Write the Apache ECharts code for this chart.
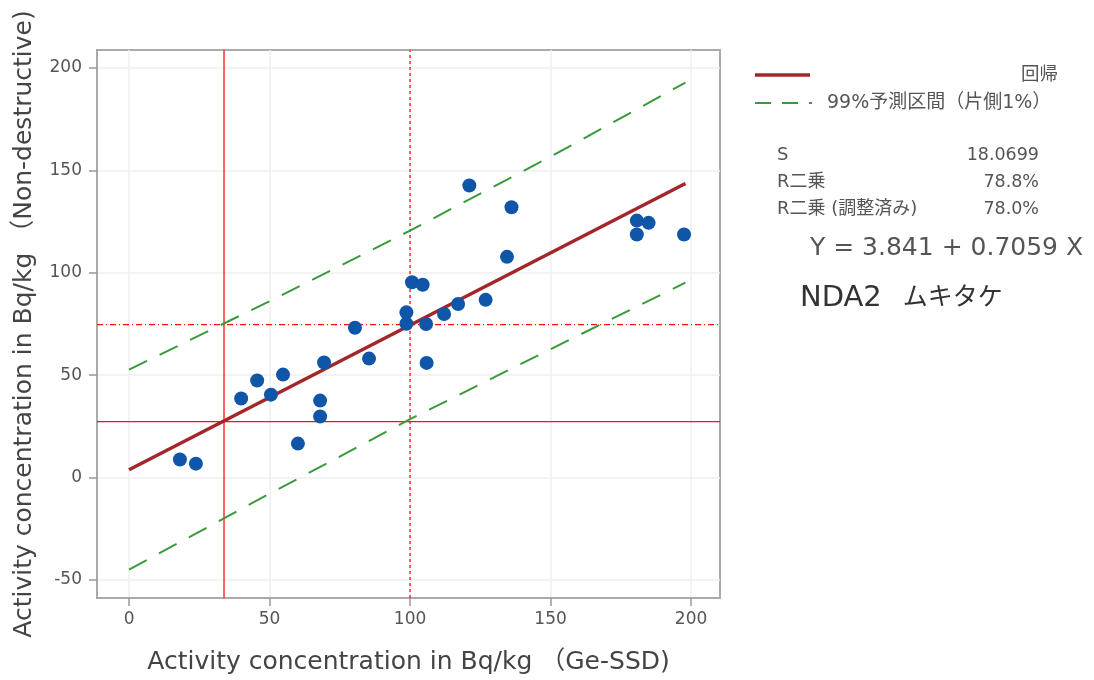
<!DOCTYPE html>
<html>
<head>
<meta charset="utf-8">
<script src="https://cdn.jsdelivr.net/npm/echarts@6/dist/echarts.min.js"></script>
<style>html,body{margin:0;padding:0;background:#fff}#c{width:1094px;height:680px}</style>
</head>
<body>
<div id="c"></div>
<script>
// ---- data ----
const geSSD = [18.1, 23.8, 39.9, 45.6, 50.5, 54.8, 60.1, 68.0, 68.0, 69.4, 80.4, 85.4,
  98.7, 98.7, 100.7, 104.5, 105.7, 105.9, 112.1, 117.1, 126.9, 121.1, 136.1, 134.5,
  180.7, 180.7, 184.9, 197.5];
const nonDestructive = [8.8, 6.8, 38.6, 47.4, 40.5, 50.3, 16.6, 37.6, 29.8, 56.2, 73.2, 58.1,
  80.7, 75.1, 95.4, 94.2, 75.0, 56.0, 79.9, 84.8, 86.8, 142.6, 132.0, 107.8,
  125.5, 118.7, 124.4, 118.7];
const fitX = [0, 198];
const fitY = [3.84, 143.6];
const piX = [0, 50, 100, 150, 198];
const piUpper = [52.7, 86.1, 120.6, 156.7, 192.9];
const piLower = [-44.9, -7.9, 28.5, 62.7, 95.2];
const refSolidX = 33.8;
const refSolidY = 27.3;
const refDotX = 100;
const refDotY = 74.7;
const xTicks = [0, 50, 100, 150, 200];
const yTicks = [-50, 0, 50, 100, 150, 200];
const xRange = [-11.4, 210.3];
const yRange = [-58.8, 208.8];
const legendNames = ['回帰', '99%予測区間（片側1%）'];
const statsLabels = ['S', 'R二乗', 'R二乗 (調整済み)'];
const statsValues = ['18.0699', '78.8%', '78.0%'];
const equationText = 'Y = 3.841 + 0.7059 X';
const titleLatin = 'NDA2';
const titleKana = 'ムキタケ';
const xName = 'Activity concentration in Bq/kg （Ge-SSD)';
const yName = 'Activity concentration in Bq/kg （Non-destructive)';

const FONT = "'DejaVu Sans', 'Noto Sans CJK JP', sans-serif";
const zip = (a, b) => a.map((v, i) => [v, b[i]]);

const chart = echarts.init(document.getElementById('c'));
const axisCommon = {
  type: 'value',
  axisLine: { show: true, onZero: false, lineStyle: { color: '#aaa', width: 2 } },
  axisTick: { show: true, length: 8, lineStyle: { color: '#999', width: 1.5 } },
  splitLine: { show: true, lineStyle: { color: '#efefef', width: 1.5 } },
  axisLabel: { color: '#555', fontSize: 17, fontFamily: FONT },
  nameLocation: 'middle',
  nameTextStyle: { color: '#444', fontSize: 25, fontFamily: FONT }
};
const gY = (i) => 155 + i * 27;
const refLine = (pts, type) => ({
  type: 'line', data: pts, showSymbol: false, symbol: 'none', silent: true, z: 1,
  lineStyle: { color: '#ff1010', width: 1.3, type: type }, emphasis: { disabled: true }
});
chart.setOption({
  animation: false,
  backgroundColor: '#fff',
  grid: { left: 97, right: 374, top: 50, bottom: 82, show: true, borderColor: '#aaa', borderWidth: 2, backgroundColor: 'transparent' },
  xAxis: Object.assign({}, axisCommon, {
    min: xRange[0], max: xRange[1],
    name: xName, nameGap: 52,
    axisTick: Object.assign({}, axisCommon.axisTick, { customValues: xTicks }),
    axisLabel: Object.assign({}, axisCommon.axisLabel, { customValues: xTicks, margin: 13 })
  }),
  yAxis: Object.assign({}, axisCommon, {
    min: yRange[0], max: yRange[1],
    name: yName, nameGap: 60,
    axisTick: Object.assign({}, axisCommon.axisTick, { customValues: yTicks }),
    axisLabel: Object.assign({}, axisCommon.axisLabel, { customValues: yTicks, margin: 15 })
  }),
  series: [
    refLine([[refSolidX, yRange[0]], [refSolidX, yRange[1]]], 'solid'),
    refLine([[xRange[0], refSolidY], [xRange[1], refSolidY]], 'solid'),
    refLine([[refDotX, yRange[0]], [refDotX, yRange[1]]], [3, 3]),
    refLine([[xRange[0], refDotY], [xRange[1], refDotY]], [6, 3, 1, 3]),
    {
      type: 'line', name: legendNames[1], data: zip(piX, piUpper), showSymbol: false, symbol: 'none',
      lineStyle: { color: '#3a9a3a', width: 2, type: [20, 14] }, z: 2
    },
    {
      type: 'line', name: legendNames[1] + ' ', data: zip(piX, piLower), showSymbol: false, symbol: 'none',
      lineStyle: { color: '#3a9a3a', width: 2, type: [20, 14] }, z: 2
    },
    {
      type: 'line', name: legendNames[0], data: zip(fitX, fitY), showSymbol: false, symbol: 'none',
      lineStyle: { color: '#a3262a', width: 3.5 }, z: 3
    },
    {
      type: 'scatter', name: 'data', data: zip(geSSD, nonDestructive),
      symbolSize: 14, itemStyle: { color: '#0f56a8', opacity: 1 }, z: 5
    }
  ],
  graphic: [
    { type: 'line', shape: { x1: 755, y1: 75, x2: 810, y2: 75 }, style: { stroke: '#a3262a', lineWidth: 3.5 } },
    { type: 'text', x: 1058, y: 75, style: { text: legendNames[0], align: 'right', verticalAlign: 'middle', fill: '#555', fontSize: 18.5, fontFamily: FONT } },
    { type: 'line', shape: { x1: 755, y1: 103, x2: 812, y2: 103 }, style: { stroke: '#3a9a3a', lineWidth: 2, lineDash: [16, 11] } },
    { type: 'text', x: 827, y: 103, style: { text: legendNames[1], align: 'left', verticalAlign: 'middle', fill: '#555', fontSize: 19, fontFamily: FONT } },
    ...statsLabels.map((t, i) => ({ type: 'text', x: 777, y: gY(i), style: { text: t, align: 'left', verticalAlign: 'middle', fill: '#555', fontSize: 18, fontFamily: FONT } })),
    ...statsValues.map((t, i) => ({ type: 'text', x: 1039, y: gY(i), style: { text: t, align: 'right', verticalAlign: 'middle', fill: '#555', fontSize: 17.5, fontFamily: FONT } })),
    { type: 'text', x: 810, y: 248, style: { text: equationText, align: 'left', verticalAlign: 'middle', fill: '#555', fontSize: 25, fontFamily: FONT } },
    { type: 'text', x: 800, y: 298, style: {
      text: '{a|' + titleLatin + '}{s|   }{b|' + titleKana + '}', align: 'left', verticalAlign: 'middle', fill: '#333', fontFamily: FONT,
      rich: { a: { fontSize: 29, fontFamily: FONT, fill: '#333' }, s: { fontSize: 22, fontFamily: FONT }, b: { fontSize: 25, fontFamily: FONT, fill: '#333' } }
    } }
  ]
});
</script>
</body>
</html>
